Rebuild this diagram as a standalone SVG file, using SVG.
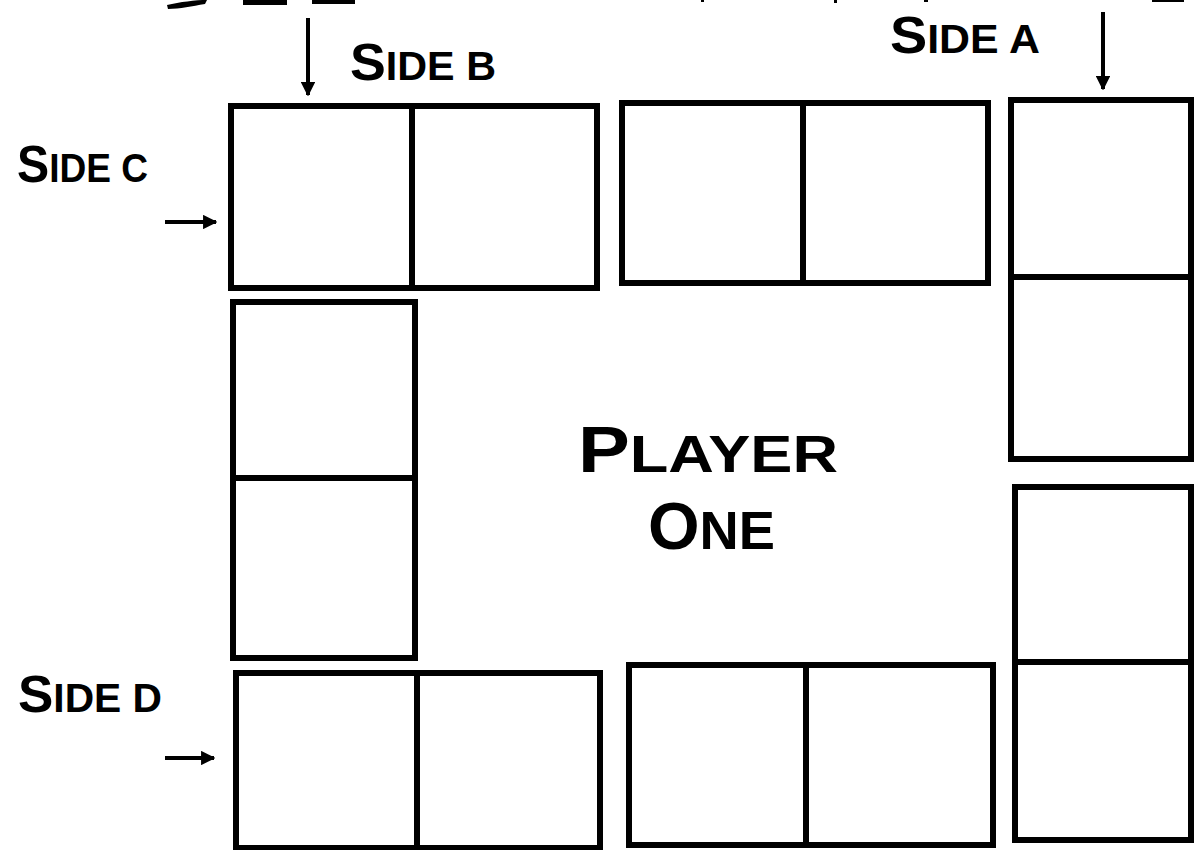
<svg xmlns="http://www.w3.org/2000/svg" width="1195" height="850" viewBox="0 0 1195 850">
  <defs>
    <style>
      .box { fill: #ffffff; stroke: #000000; stroke-width: 6; stroke-linejoin: miter; }
      .div { stroke: #000000; stroke-width: 6; fill: none; }
      .arr { stroke: #000000; stroke-width: 4; fill: none; }
      .lbl { font-family: "Liberation Sans", "DejaVu Sans", sans-serif; font-weight: bold; fill: #000000; }
      .frag { fill: #000000; }
    </style>
    <marker id="head" viewBox="0 0 10 10" refX="9" refY="5" markerWidth="3.6" markerHeight="3.6" markerUnits="strokeWidth" orient="auto">
      <path d="M0,0 L10,5 L0,10 Z" fill="#000000"/>
    </marker>
  </defs>
  <rect x="0" y="0" width="1195" height="850" fill="#ffffff"/>

  <!-- cut-off fragments at the top edge -->
  <g id="top-fragments">
    <path class="frag" d="M167,5 C180,2 195,0 207,0 L205,4 C192,6 180,9 168,9 Z"/>
    <rect class="frag" x="243" y="0" width="44" height="5"/>
    <rect class="frag" x="312" y="0" width="43" height="4"/>
    <rect class="frag" x="701" y="0" width="3" height="2"/>
    <rect class="frag" x="834" y="0" width="3" height="3"/>
    <rect class="frag" x="924" y="0" width="4" height="2"/>
    <rect class="frag" x="1152" y="0" width="32" height="2"/>
  </g>

  <!-- boxes -->
  <g id="top-left-pair">
    <rect class="box" x="231" y="106" width="366" height="182"/>
    <line class="div" x1="412" y1="106" x2="412" y2="288"/>
  </g>
  <g id="top-middle-pair">
    <rect class="box" x="622" y="103" width="366" height="180"/>
    <line class="div" x1="803" y1="103" x2="803" y2="283"/>
  </g>
  <g id="top-right-pair">
    <rect class="box" x="1011" y="100" width="180" height="359"/>
    <line class="div" x1="1011" y1="277" x2="1191" y2="277"/>
  </g>
  <g id="left-pair">
    <rect class="box" x="233" y="302" width="182" height="356"/>
    <line class="div" x1="233" y1="478" x2="415" y2="478"/>
  </g>
  <g id="right-lower-pair">
    <rect class="box" x="1015" y="487" width="176" height="353"/>
    <line class="div" x1="1015" y1="662" x2="1191" y2="662"/>
  </g>
  <g id="bottom-left-pair">
    <rect class="box" x="236" y="673" width="364" height="175"/>
    <line class="div" x1="417" y1="673" x2="417" y2="848"/>
  </g>
  <g id="bottom-middle-pair">
    <rect class="box" x="629" y="665" width="364" height="180"/>
    <line class="div" x1="806" y1="665" x2="806" y2="845"/>
  </g>

  <!-- labels -->
  <g id="label-side-a">
    <text class="lbl" x="890" y="53" textLength="150" lengthAdjust="spacingAndGlyphs"><tspan font-size="52">S</tspan><tspan font-size="40">IDE A</tspan></text>
  </g>
  <g id="label-side-b">
    <text class="lbl" x="350" y="80" textLength="146" lengthAdjust="spacingAndGlyphs"><tspan font-size="52">S</tspan><tspan font-size="40">IDE B</tspan></text>
  </g>
  <g id="label-side-c">
    <text class="lbl" x="17" y="182" textLength="131" lengthAdjust="spacingAndGlyphs"><tspan font-size="52">S</tspan><tspan font-size="40">IDE C</tspan></text>
  </g>
  <g id="label-side-d">
    <text class="lbl" x="18" y="712" textLength="144" lengthAdjust="spacingAndGlyphs"><tspan font-size="52">S</tspan><tspan font-size="40">IDE D</tspan></text>
  </g>
  <g id="label-player-one">
    <text class="lbl" x="578" y="472" textLength="260" lengthAdjust="spacingAndGlyphs"><tspan font-size="64">P</tspan><tspan font-size="52">LAYER</tspan></text>
    <text class="lbl" x="648" y="549" textLength="127" lengthAdjust="spacingAndGlyphs"><tspan font-size="66">O</tspan><tspan font-size="54">NE</tspan></text>
  </g>

  <!-- connectors -->
  <g id="connectors">
    <line class="arr" x1="308" y1="18" x2="308" y2="95" marker-end="url(#head)"/>
    <line class="arr" x1="1103" y1="12" x2="1103" y2="89" marker-end="url(#head)"/>
    <line class="arr" x1="165" y1="222" x2="216" y2="222" stroke-width="5" marker-end="url(#head)"/>
    <line class="arr" x1="165" y1="758" x2="214" y2="758" stroke-width="5" marker-end="url(#head)"/>
  </g>
</svg>
